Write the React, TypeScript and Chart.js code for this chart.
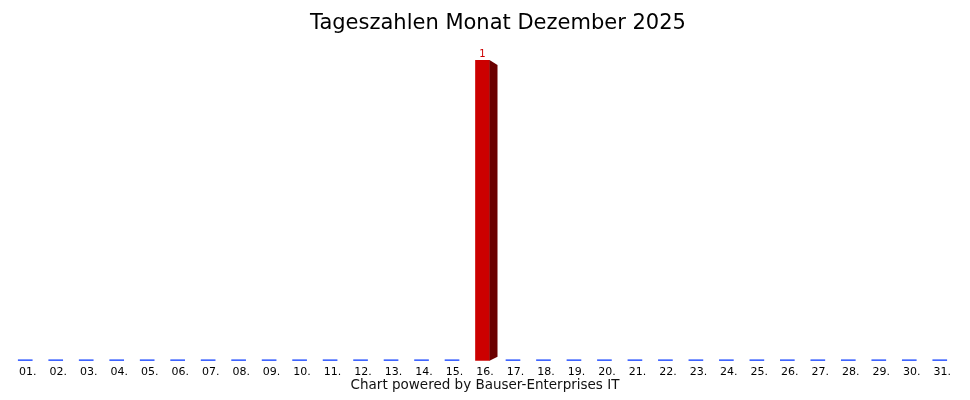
import React, { useEffect, useRef } from 'react';
import { Chart, registerables } from 'chart.js';

Chart.register(...registerables);

// Tage im Dezember 2025
const dayLabels: string[] = [
  '01.', '02.', '03.', '04.', '05.', '06.', '07.', '08.', '09.', '10.',
  '11.', '12.', '13.', '14.', '15.', '16.', '17.', '18.', '19.', '20.',
  '21.', '22.', '23.', '24.', '25.', '26.', '27.', '28.', '29.', '30.', '31.',
];

// Tageszahlen (nur am 16. ein Eintrag)
const dayCounts: number[] = [
  0, 0, 0, 0, 0, 0, 0, 0, 0, 0,
  0, 0, 0, 0, 0, 1, 0, 0, 0, 0,
  0, 0, 0, 0, 0, 0, 0, 0, 0, 0, 0,
];

const FONT = '"DejaVu Sans", Verdana, sans-serif';
const RED = '#cc0000';
const DARK_RED = '#6b0000';
const BLUE = '#0033ff';

// draws the dark 3D side on bars with a value > 0
const sidePlugin = {
  id: 'barSide',
  afterDatasetsDraw(chart: any) {
    const ctx = chart.ctx;
    const meta = chart.getDatasetMeta(0);
    meta.data.forEach((bar: any, i: number) => {
      if (!dayCounts[i]) return;
      const { x, y, base, width } = bar.getProps(['x', 'y', 'base', 'width'], true);
      const right = x + width / 2;
      ctx.save();
      ctx.fillStyle = DARK_RED;
      ctx.beginPath();
      ctx.moveTo(right, y);
      ctx.lineTo(right + 8, y + 5);
      ctx.lineTo(right + 8, base - 4);
      ctx.lineTo(right, base);
      ctx.closePath();
      ctx.fill();
      ctx.restore();
    });
  },
};

// value label above non-zero bars
const valuePlugin = {
  id: 'barValue',
  afterDatasetsDraw(chart: any) {
    const ctx = chart.ctx;
    const meta = chart.getDatasetMeta(0);
    meta.data.forEach((bar: any, i: number) => {
      if (!dayCounts[i]) return;
      ctx.save();
      ctx.fillStyle = RED;
      ctx.font = `10px ${FONT}`;
      ctx.textAlign = 'center';
      ctx.textBaseline = 'bottom';
      ctx.fillText(String(dayCounts[i]), bar.x, bar.y - 1);
      ctx.restore();
    });
  },
};

const App: React.FC = () => {
  const canvasRef = useRef<HTMLCanvasElement>(null);
  const chartRef = useRef<Chart | null>(null);

  useEffect(() => {
    if (!canvasRef.current) return;
    if (chartRef.current) chartRef.current.destroy();

    chartRef.current = new Chart(canvasRef.current, {
      type: 'bar',
      data: {
        labels: dayLabels,
        datasets: [{
          data: dayCounts,
          backgroundColor: dayCounts.map(v => (v > 0 ? RED : BLUE)),
          borderWidth: 0,
          barThickness: 14,
          minBarLength: 1,
        }],
      },
      options: {
        responsive: true,
        maintainAspectRatio: false,
        animation: false,
        layout: { padding: { top: 52, left: 2, right: 7, bottom: 8 } },
        plugins: {
          legend: { display: false },
          tooltip: { enabled: false },
        },
        scales: {
          x: {
            grid: { display: false, drawTicks: false },
            border: { display: false },
            ticks: {
              color: '#000',
              padding: 5,
              labelOffset: 2.5,
              maxRotation: 0,
              autoSkip: false,
              font: { family: FONT, size: 11 },
            },
          },
          y: {
            display: false,
            min: 0,
            max: 1,
          },
        },
      },
      plugins: [sidePlugin, valuePlugin],
    });

    return () => {
      if (chartRef.current) {
        chartRef.current.destroy();
        chartRef.current = null;
      }
    };
  }, []);

  return (
    <div style={{ position: 'relative', width: 954, height: 384, fontFamily: FONT }}>
      <canvas ref={canvasRef} />
      <div style={{
        position: 'absolute', top: 4, left: 0, width: 954, paddingLeft: 26, boxSizing: 'border-box',
        textAlign: 'center', fontSize: 21, lineHeight: '21px', color: '#000',
      }}>
        Tageszahlen Monat Dezember 2025
      </div>
      <div style={{
        position: 'absolute', top: 370, left: 0, width: 954,
        textAlign: 'center', fontSize: 13.5, lineHeight: '13.5px', color: '#111',
      }}>
        Chart powered by Bauser-Enterprises IT
      </div>
    </div>
  );
};

export default App;
